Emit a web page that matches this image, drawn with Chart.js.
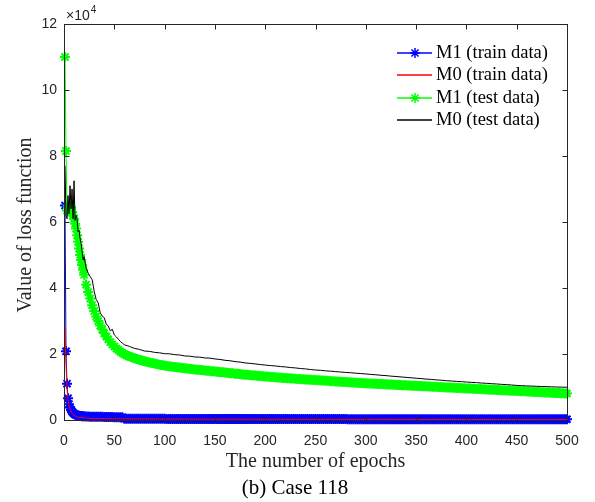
<!DOCTYPE html>
<html>
<head>
<meta charset="utf-8">
<script src="https://cdn.jsdelivr.net/npm/chart.js@4.4.1/dist/chart.umd.min.js"></script>
<style>
    html, body { margin: 0; padding: 0; background: #fff; }
    #wrap { width: 595px; height: 502px; }
</style>
</head>
<body>
<div id="wrap"><canvas id="lossChart" width="595" height="502"></canvas></div>
<script>
// epochs for the marker series (M1), dense so the stars merge into a band
const markerEpochs = [
    1, 2, 3, 4, 5, 6, 7, 8, 9, 10, 11, 12, 13, 14, 15, 16, 17, 18, 19, 20,
    22, 24, 26, 28, 30, 32, 34, 36, 38, 40, 42, 44, 46, 48, 50, 52, 54, 56, 58, 60,
    62, 64, 66, 68, 70, 72, 74, 76, 78, 80, 82, 84, 86, 88, 90, 92, 94, 96, 98, 100,
    102, 104, 106, 108, 110, 112, 114, 116, 118, 120, 122, 124, 126, 128, 130, 132, 134, 136, 138, 140,
    142, 144, 146, 148, 150, 152, 154, 156, 158, 160, 162, 164, 166, 168, 170, 172, 174, 176, 178, 180,
    182, 184, 186, 188, 190, 192, 194, 196, 198, 200, 202, 204, 206, 208, 210, 212, 214, 216, 218, 220,
    222, 224, 226, 228, 230, 232, 234, 236, 238, 240, 242, 244, 246, 248, 250, 252, 254, 256, 258, 260,
    262, 264, 266, 268, 270, 272, 274, 276, 278, 280, 282, 284, 286, 288, 290, 292, 294, 296, 298, 300,
    302, 304, 306, 308, 310, 312, 314, 316, 318, 320, 322, 324, 326, 328, 330, 332, 334, 336, 338, 340,
    342, 344, 346, 348, 350, 352, 354, 356, 358, 360, 362, 364, 366, 368, 370, 372, 374, 376, 378, 380,
    382, 384, 386, 388, 390, 392, 394, 396, 398, 400, 402, 404, 406, 408, 410, 412, 414, 416, 418, 420,
    422, 424, 426, 428, 430, 432, 434, 436, 438, 440, 442, 444, 446, 448, 450, 452, 454, 456, 458, 460,
    462, 464, 466, 468, 470, 472, 474, 476, 478, 480, 482, 484, 486, 488, 490, 492, 494, 496, 498, 500
];

// epochs for the plain line series (M0)
const lineEpochs = [
    1, 2, 3, 4, 5, 6, 7, 8, 9, 10, 11, 12, 13, 14, 15, 16, 17, 18, 19, 20,
    22, 24, 26, 28, 30, 32, 34, 36, 38, 40, 42, 44, 46, 48, 50, 52, 54, 56, 58, 60,
    65, 70, 75, 80, 85, 90, 95, 100, 105, 110, 115, 120, 125, 130, 135, 140, 145, 150,
    155, 160, 165, 170, 175, 180, 185, 190, 195, 200,
    205, 210, 215, 220, 225, 230, 235, 240, 245, 250, 255, 260, 265, 270, 275, 280, 285, 290, 295, 300,
    305, 310, 315, 320, 325, 330, 335, 340, 345, 350, 355, 360, 365, 370, 375, 380, 385, 390, 395, 400,
    405, 410, 415, 420, 425, 430, 435, 440, 445, 450, 455, 460, 465, 470, 475, 480, 485, 490, 495, 500
];

// M1 (train data), on markerEpochs
const m1Train = [
    65000, 20800, 11000, 6600, 4800, 3800, 3100, 2600, 2200, 1900, 1700, 1550, 1450, 1350, 1300, 1250, 1200, 1150, 1100, 1100,
    1050, 1050, 1000, 1000, 1000, 950, 950, 950, 950, 900, 900, 900, 900, 900, 850, 850, 850, 850, 850, 400,
    390, 385, 380, 378, 375, 372, 370, 368, 365, 362, 360, 358, 356, 354, 352, 350, 348, 346, 344, 342,
    340, 338, 337, 336, 335, 334, 333, 332, 331, 330, 329, 328, 327, 326, 325, 324, 323, 322, 321, 320,
    319, 318, 317, 316, 315, 314, 313, 312, 311, 310, 309, 308, 307, 306, 305, 304, 303, 302, 301, 300,
    300, 299, 298, 297, 296, 295, 294, 293, 292, 291, 290, 289, 288, 287, 286, 285, 284, 283, 282, 281,
    280, 280, 279, 279, 278, 278, 277, 277, 276, 276, 275, 275, 274, 274, 273, 273, 272, 272, 271, 271,
    270, 270, 269, 269, 268, 268, 267, 267, 266, 266, 265, 265, 264, 264, 263, 263, 262, 262, 261, 261,
    260, 260, 259, 259, 258, 258, 257, 257, 256, 256, 255, 255, 254, 254, 253, 253, 252, 252, 251, 251,
    250, 250, 250, 249, 249, 249, 248, 248, 248, 247, 247, 247, 246, 246, 246, 245, 245, 245, 244, 244,
    244, 243, 243, 243, 242, 242, 242, 241, 241, 241, 240, 240, 240, 239, 239, 239, 238, 238, 238, 237,
    237, 237, 236, 236, 236, 235, 235, 235, 234, 234, 234, 233, 233, 233, 232, 232, 232, 231, 231, 231,
    230, 230, 230, 229, 229, 229, 228, 228, 228, 227, 227, 227, 226, 226, 226, 225, 225, 225, 224, 224
];

// M1 (test data), on markerEpochs
const m1Test = [
    110000, 81500, 63500, 65000, 64000, 63000, 64500, 63000, 62000, 61000, 59500, 58000, 56000, 54000, 52000, 50000, 48500, 47000, 45500, 44000,
    41000, 38800, 36800, 34800, 33000, 31400, 30000, 28600, 27400, 26300, 25300, 24400, 23600, 22900, 22300, 21700, 21200, 20700, 20300, 19900,
    19650, 19400, 19150, 18950, 18700, 18500, 18300, 18150, 17950, 17800, 17650, 17500, 17350, 17250, 17100, 16950, 16850, 16700, 16600, 16500,
    16400, 16300, 16250, 16150, 16050, 15950, 15900, 15800, 15750, 15650, 15600, 15500, 15450, 15400, 15300, 15250, 15200, 15150, 15050, 15000,
    14950, 14900, 14800, 14750, 14700, 14650, 14550, 14500, 14450, 14400, 14300, 14250, 14200, 14150, 14050, 14000, 13950, 13900, 13800, 13750,
    13700, 13650, 13550, 13500, 13450, 13400, 13350, 13300, 13250, 13200, 13150, 13100, 13050, 13000, 12950, 12900, 12850, 12800, 12750, 12700,
    12660, 12620, 12580, 12540, 12500, 12460, 12420, 12380, 12340, 12300, 12260, 12220, 12180, 12140, 12100, 12060, 12020, 11980, 11940, 11900,
    11860, 11820, 11780, 11740, 11700, 11660, 11620, 11580, 11540, 11500, 11460, 11420, 11380, 11340, 11300, 11265, 11230, 11195, 11160, 11125,
    11094, 11063, 11032, 11001, 10970, 10939, 10908, 10877, 10846, 10815, 10784, 10753, 10722, 10691, 10660, 10629, 10598, 10567, 10536, 10505,
    10474, 10443, 10412, 10381, 10350, 10319, 10288, 10257, 10226, 10195, 10164, 10133, 10102, 10071, 10040, 10009, 9978, 9947, 9916, 9885,
    9854, 9823, 9792, 9761, 9730, 9699, 9668, 9637, 9606, 9575, 9544, 9513, 9482, 9451, 9420, 9389, 9358, 9327, 9296, 9265,
    9234, 9203, 9172, 9141, 9110, 9079, 9048, 9017, 8986, 8955, 8924, 8893, 8862, 8831, 8800, 8769, 8738, 8707, 8676, 8645,
    8614, 8583, 8552, 8521, 8490, 8459, 8428, 8397, 8366, 8335, 8304, 8273, 8242, 8211, 8180, 8149, 8118, 8087, 8056, 8025
];

// M0 (train data), on lineEpochs
const m0Train = [
    28000, 17000, 9500, 6200, 4300, 3200, 2500, 2000, 1700, 1450, 1250, 1100, 1000, 900, 850, 800, 750, 700, 650, 620,
    580, 550, 520, 500, 480, 460, 450, 440, 430, 420, 410, 400, 395, 390, 385, 380, 375, 370, 365, 360,
    340, 330, 320, 315, 310, 305, 300, 295, 290, 285, 280, 278, 275, 272, 270, 268, 265, 262,
    260, 258, 255, 253, 250, 248, 246, 244, 242, 240,
    238, 236, 234, 232, 230, 228, 226, 224, 222, 220, 218, 216, 214, 212, 210, 208, 206, 204, 202, 200,
    198, 196, 194, 192, 190, 188, 186, 184, 182, 180, 178, 176, 174, 172, 170, 168, 166, 164, 162, 160,
    158, 156, 154, 152, 150, 148, 146, 144, 142, 140, 138, 136, 134, 132, 130, 128, 126, 124, 122, 120
];

// M0 (test data), on lineEpochs
const m0Test = [
    77000, 62000, 61000, 68000, 62500, 71000, 64000, 70000, 61000, 72500, 60500, 62000, 61000, 57000, 57500, 55000, 53500, 51000, 48500, 49500,
    46000, 44500, 43500, 42500, 39000, 36500, 35500, 32500, 31500, 31000, 29000, 28500, 27000, 27500, 25800, 25200, 24500, 23800, 23300, 22800,
    22300, 21700, 21400, 20900, 20800, 20500, 20350, 20100, 20050, 19800, 19700, 19400, 19350, 19100, 19050, 18800, 18750, 18500,
    18350, 18100, 17950, 17700, 17550, 17300, 17150, 17000, 16800, 16650,
    16500, 16380, 16200, 16080, 15900, 15780, 15600, 15480, 15300, 15150, 15050, 14900, 14800, 14650, 14550, 14400, 14320, 14180, 14080, 13950,
    13820, 13700, 13560, 13450, 13300, 13180, 13050, 12920, 12800, 12650, 12560, 12400, 12300, 12150, 12060, 11900, 11820, 11700, 11620, 11500,
    11400, 11320, 11200, 11120, 11000, 10920, 10800, 10720, 10600, 10480, 10400, 10330, 10270, 10210, 10150, 10100, 10050, 10000, 9960, 9920
];

const seriesLabels = ["M1 (train data)", "M0 (train data)", "M1 (test data)", "M0 (test data)"];
const seriesColors = ["#0000ff", "#ff0000", "#00ff00", "#000000"];
const xTicks = [0, 50, 100, 150, 200, 250, 300, 350, 400, 450, 500];
const yTicks = [0, 20000, 40000, 60000, 80000, 100000, 120000];

const AXIS = "#262626";
const SANS = '"Liberation Sans", Arial, sans-serif';
const SERIF = '"Liberation Serif", "Times New Roman", serif';

function toPoints(xs, values) {
    return values.map((v, i) => ({ x: xs[i], y: v }));
}

function drawStar(ctx, x, y, r) {
    const d = r * Math.SQRT1_2;
    ctx.beginPath();
    ctx.moveTo(x - r, y); ctx.lineTo(x + r, y);
    ctx.moveTo(x, y - r); ctx.lineTo(x, y + r);
    ctx.moveTo(x - d, y - d); ctx.lineTo(x + d, y + d);
    ctx.moveTo(x - d, y + d); ctx.lineTo(x + d, y - d);
    ctx.stroke();
}

// box, inward ticks, axis titles, exponent, legend and caption
const decorPlugin = {
    id: "decor",
    afterDraw(chart) {
        const ctx = chart.ctx;
        const a = chart.chartArea;
        const xs = chart.scales.x;
        const ys = chart.scales.y;
        ctx.save();
        ctx.strokeStyle = AXIS;
        ctx.lineWidth = 1;
        const L = Math.round(a.left) + 0.5, R = Math.round(a.right) + 0.5;
        const T = Math.round(a.top) + 0.5, B = Math.round(a.bottom) + 0.5;
        ctx.strokeRect(L, T, R - L, B - T);
        ctx.beginPath();
        xTicks.forEach((t) => {
            const px = Math.round(xs.getPixelForValue(t)) + 0.5;
            ctx.moveTo(px, B); ctx.lineTo(px, B - 5);
            ctx.moveTo(px, T); ctx.lineTo(px, T + 5);
        });
        yTicks.forEach((t) => {
            const py = Math.round(ys.getPixelForValue(t)) + 0.5;
            ctx.moveTo(L, py); ctx.lineTo(L + 5, py);
            ctx.moveTo(R, py); ctx.lineTo(R - 5, py);
        });
        ctx.stroke();

        // exponent label
        ctx.fillStyle = AXIS;
        ctx.textBaseline = "alphabetic";
        ctx.textAlign = "left";
        ctx.font = "14px " + SANS;
        ctx.fillText("\u00d710", 66, 20);
        const w = ctx.measureText("\u00d710").width;
        ctx.font = "10px " + SANS;
        ctx.fillText("4", 66 + w + 1, 13);

        // axis titles and caption
        ctx.fillStyle = "#262626";
        ctx.textAlign = "center";
        ctx.textBaseline = "middle";
        ctx.font = "20px " + SERIF;
        ctx.fillText("The number of epochs", (a.left + a.right) / 2, 462);
        ctx.save();
        ctx.translate(26, 225);
        ctx.rotate(-Math.PI / 2);
        ctx.fillText("Value of loss function", 0, 0);
        ctx.restore();
        ctx.fillStyle = "#000";
        ctx.font = "21px " + SERIF;
        ctx.fillText("(b) Case 118", 295, 488);

        // legend
        const rowY = [53, 75, 98, 120];
        ctx.font = "18.5px " + SERIF;
        ctx.textAlign = "left";
        ctx.textBaseline = "middle";
        seriesLabels.forEach((label, i) => {
            const y = rowY[i];
            ctx.strokeStyle = seriesColors[i];
            ctx.lineWidth = 1.5;
            ctx.beginPath();
            ctx.moveTo(397, y);
            ctx.lineTo(432, y);
            ctx.stroke();
            if (i === 0 || i === 2) {
                drawStar(ctx, 415, y, 5);
            }
            ctx.fillStyle = "#000";
            ctx.fillText(label, 436, y);
        });
        ctx.restore();
    },
};

new Chart(document.getElementById("lossChart"), {
    type: "line",
    data: {
        datasets: [
            {
                label: seriesLabels[0],
                data: toPoints(markerEpochs, m1Train),
                borderColor: seriesColors[0],
                backgroundColor: seriesColors[0],
                borderWidth: 1,
                pointStyle: "star",
                pointRadius: 5,
                pointBorderWidth: 2,
                order: 4,
                clip: false,
            },
            {
                label: seriesLabels[1],
                data: toPoints(lineEpochs, m0Train),
                borderColor: seriesColors[1],
                backgroundColor: seriesColors[1],
                borderWidth: 1,
                pointRadius: 0,
                order: 3,
            },
            {
                label: seriesLabels[2],
                data: toPoints(markerEpochs, m1Test),
                borderColor: seriesColors[2],
                backgroundColor: seriesColors[2],
                borderWidth: 1,
                pointStyle: "star",
                pointRadius: 5,
                pointBorderWidth: 2,
                order: 2,
                clip: false,
            },
            {
                label: seriesLabels[3],
                data: toPoints(lineEpochs, m0Test),
                borderColor: seriesColors[3],
                backgroundColor: seriesColors[3],
                borderWidth: 1,
                pointRadius: 0,
                order: 1,
            },
        ],
    },
    options: {
        responsive: false,
        animation: false,
        devicePixelRatio: 1,
        layout: { padding: { top: 24, right: 28, left: 0, bottom: 0 } },
        scales: {
            x: {
                type: "linear",
                min: 0,
                max: 500,
                afterFit: (scale) => { scale.height = 82; },
                afterBuildTicks: (scale) => { scale.ticks = xTicks.map((v) => ({ value: v })); },
                grid: { display: false, drawTicks: false },
                border: { display: false },
                ticks: {
                    padding: 13,
                    color: AXIS,
                    font: { family: SANS, size: 14 },
                    maxRotation: 0,
                },
            },
            y: {
                type: "linear",
                min: 0,
                max: 120000,
                afterFit: (scale) => { scale.width = 64; },
                afterBuildTicks: (scale) => { scale.ticks = yTicks.map((v) => ({ value: v })); },
                grid: { display: false, drawTicks: false },
                border: { display: false },
                ticks: {
                    padding: 7,
                    color: AXIS,
                    font: { family: SANS, size: 14 },
                    callback: (v) => v / 10000,
                },
            },
        },
        plugins: {
            legend: { display: false },
            tooltip: { enabled: false },
        },
    },
    plugins: [decorPlugin],
});
</script>
</body>
</html>
